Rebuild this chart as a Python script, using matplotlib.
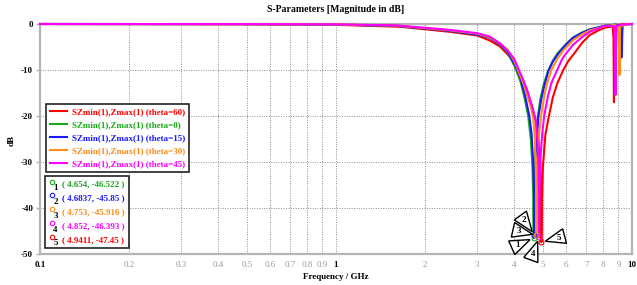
import numpy as np
import matplotlib
matplotlib.use('Agg')
import matplotlib.pyplot as plt
import matplotlib.transforms as mtransforms
from matplotlib.legend_handler import HandlerBase
from matplotlib.lines import Line2D
from matplotlib.text import Text
from matplotlib.patches import Polygon

plt.rcParams['font.family'] = ['Liberation Serif', 'DejaVu Serif']

# ---- curve data (frequency GHz, magnitude dB) ----
f_red = [0.1, 0.5, 1.0, 1.645, 2.43, 3.0, 3.31, 3.58, 3.67, 3.85, 4.0, 4.2, 4.4, 4.6,
         4.75, 4.85, 4.9, 4.925, 4.9411, 4.96, 5.0, 5.1, 5.24, 5.4, 5.6, 5.86, 6.1,
         6.33, 6.8, 7.2, 7.7, 8.1, 8.6, 8.66, 8.69, 8.72, 8.78, 9.3, 10.0]
db_red = [0, -0.05, -0.18, -0.6, -1.7, -2.5, -3.6, -4.9, -5.6, -7.0, -8.5, -11.0, -14.0, -18.0,
          -21.5, -26.0, -31.0, -37.0, -47.45, -39.0, -31.0, -24.0, -20.0, -16.0, -12.8, -10.0, -8.0,
          -6.7, -4.0, -2.4, -1.4, -0.8, -0.5, -3.0, -17.0, -3.0, -0.3, -0.05, 0]

f_green = [0.1, 0.5, 1.0, 1.6, 2.4, 3.0, 3.3, 3.6, 3.8, 4.0, 4.06, 4.2, 4.35, 4.46,
           4.55, 4.61, 4.635, 4.654, 4.67, 4.71, 4.8, 4.9, 5.05, 5.2, 5.4, 5.6, 6.0,
           6.33, 6.8, 7.2, 8.1, 8.8, 9.2, 9.23, 9.25, 9.27, 9.3, 9.6, 10.0]
db_green = [0, -0.03, -0.12, -0.4, -1.4, -2.3, -3.0, -4.6, -6.2, -9.0, -10.0, -12.5, -16.5, -20.0,
            -25.0, -31.0, -37.0, -46.522, -37.0, -28.0, -20.5, -16.3, -12.8, -10.3, -8.0, -6.4, -4.3,
            -2.9, -1.8, -1.15, -0.38, -0.15, -0.3, -3.0, -6.0, -3.0, -0.3, -0.05, 0]

f_blue = [0.1, 0.5, 1.0, 1.6, 2.4, 3.0, 3.3, 3.6, 3.8, 4.0, 4.1, 4.2, 4.35, 4.5,
          4.58, 4.635, 4.665, 4.6837, 4.70, 4.74, 4.83, 4.95, 5.05, 5.21, 5.4, 5.64, 6.0,
          6.33, 6.8, 7.2, 8.1, 8.8, 9.15, 9.19, 9.21, 9.23, 9.27, 9.6, 10.0]
db_blue = [0, -0.03, -0.12, -0.42, -1.45, -2.3, -3.0, -4.5, -6.0, -8.6, -10.0, -11.8, -15.5, -20.0,
           -24.0, -30.0, -36.0, -45.85, -37.0, -28.0, -20.0, -16.0, -13.5, -10.3, -8.2, -6.4, -4.4,
           -3.0, -1.9, -1.2, -0.4, -0.15, -0.3, -3.5, -7.3, -3.5, -0.3, -0.05, 0]

f_orange = [0.1, 0.5, 1.0, 1.6, 2.4, 3.0, 3.3, 3.6, 3.8, 4.0, 4.12, 4.3, 4.45, 4.55,
            4.64, 4.7, 4.73, 4.745, 4.753, 4.77, 4.8, 4.86, 4.93, 5.05, 5.15, 5.34, 5.57,
            5.85, 6.33, 6.8, 7.2, 8.1, 8.7, 9.02, 9.055, 9.07, 9.085, 9.12, 9.6, 10.0]
db_orange = [0, -0.03, -0.1, -0.35, -1.35, -2.1, -2.9, -4.3, -5.6, -8.0, -10.0, -13.0, -16.0, -18.0,
             -20.5, -25.0, -31.0, -37.0, -45.916, -37.0, -29.0, -23.5, -20.0, -15.8, -13.2, -10.0, -7.8,
             -5.8, -3.5, -2.2, -1.4, -0.5, -0.2, -0.5, -5.0, -11.1, -5.0, -0.5, -0.05, 0]

f_magenta = [0.1, 0.5, 1.0, 1.6, 2.4, 3.0, 3.3, 3.58, 3.67, 3.85, 4.0, 4.15, 4.3, 4.45,
             4.6, 4.73, 4.8, 4.83, 4.845, 4.852, 4.865, 4.9, 4.97, 5.05, 5.2, 5.35, 5.57,
             5.8, 5.94, 6.33, 6.8, 7.2, 8.1, 8.72, 8.78, 8.80, 8.82, 8.88, 9.3, 10.0]
db_magenta = [0, -0.02, -0.08, -0.3, -1.25, -2.0, -2.7, -4.2, -4.9, -6.2, -7.6, -10.0, -12.3, -15.0,
              -18.0, -21.0, -26.0, -31.0, -37.0, -46.393, -38.0, -30.0, -24.0, -20.0, -15.7, -12.7, -10.2,
              -7.7, -6.7, -4.5, -2.8, -1.7, -0.4, -0.5, -6.0, -15.4, -6.0, -0.4, -0.1, 0]

thetas = [60, 0, 15, 30, 45]
colors = ['#ff0000', '#1aa81a', '#1a1aff', '#ff8c1a', '#ff00ff']
freqs = [f_red, f_green, f_blue, f_orange, f_magenta]
mags = [db_red, db_green, db_blue, db_orange, db_magenta]

# marker readouts (number, freq, dB, colour)
mark_num = [1, 2, 3, 4, 5]
mark_f = [4.654, 4.6837, 4.753, 4.852, 4.9411]
mark_db = [-46.522, -45.85, -45.916, -46.393, -47.45]
mark_col = ['#1aa81a', '#1a1aff', '#ff8c1a', '#ff00ff', '#ff0000']
mark_txt = ['4.654', '4.6837', '4.753', '4.852', '4.9411']
mark_dbtxt = ['-46.522', '-45.85', '-45.916', '-46.393', '-47.45']
callout_ang = [204, 126, 167, 250, 15]   # direction of the triangle labels (deg)

xmajor = [0.1, 1, 10]
xminor = [0.2, 0.3, 0.4, 0.5, 0.6, 0.7, 0.8, 0.9, 2, 3, 4, 5, 6, 7, 8, 9]
yticks = [0, -10, -20, -30, -40, -50]

FS = 6.5
W, H = 637, 285
fig = plt.figure(figsize=(W / 100, H / 100), dpi=100)
ax = fig.add_axes([40 / W, (H - 254) / H, 592 / W, 230 / H])

lines = []
for f, m, c, th in zip(freqs, mags, colors, thetas):
    ln, = ax.plot(f, m, color=c, lw=1.5, clip_on=False, zorder=3,
                  label='SZmin(1),Zmax(1) (theta=%d)' % th)
    lines.append(ln)

ax.set_xscale('log')
ax.set_xlim(0.1, 10)
ax.set_ylim(-50, 0)

ax.set_xticks(xmajor)
ax.set_xticklabels(['0.1', '1', '10'])
ax.set_xticks(xminor, minor=True)
ax.set_xticklabels([('%g' % v) for v in xminor], minor=True)
ax.set_yticks(yticks)
ax.set_yticklabels(['%d' % v for v in yticks])

for lab in ax.get_xticklabels() + ax.get_yticklabels():
    lab.set_fontweight('bold')
    lab.set_fontsize(FS)
for lab in ax.get_xticklabels(minor=True):
    lab.set_fontsize(FS)
    lab.set_color('#9a9a9a')

ax.tick_params(axis='x', which='both', length=0, pad=5)
ax.tick_params(axis='y', which='major', length=3, color='#b0b0b0', width=1, pad=2)

ax.grid(True, which='both', axis='x', color='#8c8c8c', ls=(0, (1, 1.5)), lw=0.7)
ax.grid(True, which='major', axis='y', color='#8c8c8c', ls=(0, (1, 1.5)), lw=0.7)
ax.set_axisbelow(True)
for sp in ax.spines.values():
    sp.set_color('#b4b4b4')
    sp.set_linewidth(1.6)

fig.text(336 / W, 1 - 10 / H, 'S-Parameters [Magnitude in dB]', ha='center', va='center',
         fontsize=FS + 0.5, fontweight='bold')
fig.text(336 / W, 1 - 277 / H, 'Frequency / GHz', ha='center', va='center',
         fontsize=FS, fontweight='bold')
fig.text(12 / W, 1 - 140 / H, 'dB', ha='center', va='center', rotation=90,
         fontsize=FS, fontweight='bold')

# markers at notch minima
for x, y, c in zip(mark_f, mark_db, mark_col):
    ax.plot([x], [y], 'o', ms=3.5, mfc='none', mec=c, mew=0.8, zorder=4, clip_on=False)

# triangle callouts
for x, y, n, ang in zip(mark_f, mark_db, mark_num, callout_ang):
    u = np.array([np.cos(np.radians(ang)), np.sin(np.radians(ang))])
    nv = np.array([-u[1], u[0]])
    tip = u * 4
    base = u * 24
    verts = np.array([tip, base + nv * 7.5, base - nv * 7.5]) / 100.0
    trans = fig.dpi_scale_trans + mtransforms.ScaledTranslation(x, y, ax.transData)
    ax.add_patch(Polygon(verts, closed=True, fc='white', ec='black', lw=1.0,
                         transform=trans, clip_on=False, zorder=5))
    lp = u * 18 / 100.0
    ax.text(lp[0], lp[1], str(n), transform=trans, ha='center', va='center',
            fontsize=FS, fontweight='bold', zorder=6, clip_on=False)

# legend 1: curves
leg1 = ax.legend(handles=lines, loc='upper left', bbox_to_anchor=(6 / 592, 150 / 230),
                 borderaxespad=0, prop={'weight': 'bold', 'size': FS},
                 handlelength=1.85, handletextpad=0.55, labelspacing=0.5,
                 borderpad=0.45, fancybox=False, framealpha=1, edgecolor='#222222')
leg1.get_frame().set_linewidth(1.2)
for t, c in zip(leg1.get_texts(), colors):
    t.set_color(c)
ax.add_artist(leg1)


# legend 2: marker readouts
class MarkNum:
    def __init__(self, color, num):
        self.color = color
        self.num = num


class MarkNumHandler(HandlerBase):
    def create_artists(self, legend, orig_handle, xdescent, ydescent, width, height,
                       fontsize, trans):
        cx = -xdescent + 2.2
        cy = -ydescent + height * 0.5 + 1.2
        m = Line2D([cx], [cy], marker='o', ms=3.2, mfc='none', mec=orig_handle.color,
                   mew=0.8, ls='none', transform=trans)
        t = Text(cx + 0.9, cy - 1.6, str(orig_handle.num), fontsize=fontsize,
                 fontweight='bold', color='black', ha='left', va='top', transform=trans)
        return [m, t]


mk_handles = [MarkNum(c, n) for c, n in zip(mark_col, mark_num)]
mk_labels = ['( %s, %s )' % (a, b) for a, b in zip(mark_txt, mark_dbtxt)]
leg2 = ax.legend(mk_handles, mk_labels, handler_map={MarkNum: MarkNumHandler()},
                 loc='upper left', bbox_to_anchor=(5 / 592, 78 / 230), borderaxespad=0,
                 prop={'weight': 'bold', 'size': FS}, handlelength=1.0,
                 handletextpad=0.45, labelspacing=0.62, borderpad=0.45,
                 fancybox=False, framealpha=1, edgecolor='#222222')
leg2.get_frame().set_linewidth(1.2)
for t, c in zip(leg2.get_texts(), mark_col):
    t.set_color(c)

fig.savefig('out.png', dpi=100)
